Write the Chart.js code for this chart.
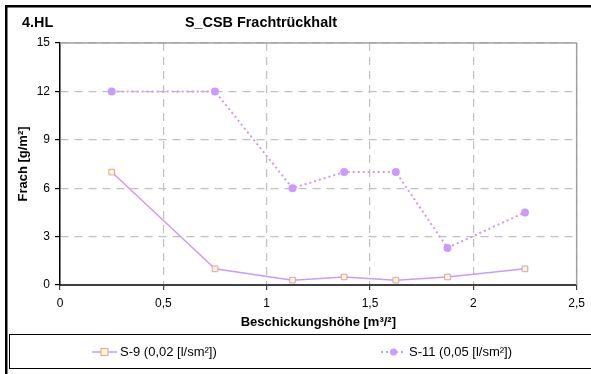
<!DOCTYPE html>
<html>
<head>
<meta charset="utf-8">
<script src="https://cdn.jsdelivr.net/npm/chart.js@4"></script>
<style>
html,body{margin:0;padding:0;background:#fff;}
#wrap{width:591px;height:374px;position:relative;}
</style>
</head>
<body>
<div id="wrap"><canvas id="c" width="591" height="374"></canvas></div>
<script>
const xValues = [0.25, 0.75, 1.125, 1.375, 1.625, 1.875, 2.25];
const s9Values = [7, 1, 0.3, 0.5, 0.3, 0.5, 1];
const s11Values = [12, 12, 6, 7, 7, 2.3, 4.5];
const seriesLabels = ['S-9 (0,02 [l/sm²])', 'S-11 (0,05 [l/sm²])'];
const xTickValues = [0, 0.5, 1, 1.5, 2, 2.5];
const xTickLabels = ['0', '0,5', '1', '1,5', '2', '2,5'];
const yTickValues = [0, 3, 6, 9, 12, 15];
const yTickLabels = ['0', '3', '6', '9', '12', '15'];
const chartTitle = 'S_CSB Frachtrückhalt';
const cornerLabel = '4.HL';
const xAxisTitle = 'Beschickungshöhe [m³/²]';
const yAxisTitle = 'Frach [g/m²]';

const LAV = '#cc99ff';
const FONT = '"Liberation Sans", Arial, sans-serif';

function toPoints(ys) { return xValues.map((x, i) => ({x: x, y: ys[i]})); }

const decor = {
  id: 'decor',
  beforeDatasetsDraw(chart) {
    const ctx = chart.ctx, a = chart.chartArea;
    ctx.save();
    ctx.strokeStyle = '#a0a0a0';
    ctx.lineWidth = 1.5;
    ctx.beginPath();
    ctx.moveTo(a.left, a.top);
    ctx.lineTo(a.right, a.top);
    ctx.lineTo(a.right, a.bottom);
    ctx.stroke();
    ctx.restore();
  },
  afterDraw(chart) {
    const ctx = chart.ctx, a = chart.chartArea;
    ctx.save();
    ctx.strokeStyle = '#000';
    ctx.lineWidth = 2.5;
    ctx.strokeRect(6.25, 6.25, 700, 500);
    ctx.fillStyle = '#000';
    ctx.font = 'bold 14.4px ' + FONT;
    ctx.textBaseline = 'middle';
    ctx.textAlign = 'left';
    ctx.fillText(cornerLabel, 22, 23);
    ctx.fillText(chartTitle, 185, 23);
    ctx.font = 'bold 13px ' + FONT;
    ctx.textAlign = 'center';
    ctx.fillText(xAxisTitle, (a.left + a.right) / 2, 322);
    ctx.save();
    ctx.translate(23, (a.top + a.bottom) / 2);
    ctx.rotate(-Math.PI / 2);
    ctx.fillText(yAxisTitle, 0, 0);
    ctx.restore();
    ctx.strokeStyle = '#000';
    ctx.lineWidth = 1;
    ctx.strokeRect(9.5, 334.5, 700, 34);
    const ly = 352;
    const lx = [92, 381];
    chart.data.datasets.forEach((ds, i) => {
      const x0 = lx[i];
      ctx.save();
      ctx.strokeStyle = ds.borderColor;
      ctx.lineWidth = ds.borderWidth;
      ctx.setLineDash(ds.borderDash || []);
      ctx.beginPath();
      ctx.moveTo(x0, ly);
      ctx.lineTo(x0 + 25, ly);
      ctx.stroke();
      ctx.restore();
      ctx.save();
      ctx.fillStyle = ds.pointBackgroundColor;
      ctx.strokeStyle = ds.pointBorderColor;
      ctx.lineWidth = 1;
      const cx = x0 + 12.5;
      if (ds.pointStyle === 'rect') {
        ctx.fillRect(cx - 3.5, ly - 3.5, 7, 7);
        ctx.strokeRect(cx - 3.5, ly - 3.5, 7, 7);
      } else {
        ctx.beginPath();
        ctx.arc(cx, ly, 3.5, 0, Math.PI * 2);
        ctx.fill();
      }
      ctx.restore();
      ctx.fillStyle = '#000';
      ctx.font = '13px ' + FONT;
      ctx.textAlign = 'left';
      ctx.textBaseline = 'middle';
      ctx.fillText(ds.label, x0 + 28, ly);
    });
    ctx.restore();
  }
};

new Chart(document.getElementById('c'), {
  type: 'scatter',
  data: {
    datasets: [
      {
        label: seriesLabels[0],
        data: toPoints(s9Values),
        showLine: true,
        borderColor: LAV,
        borderWidth: 1.5,
        pointStyle: 'rect',
        pointRadius: 4,
        pointBackgroundColor: '#ffff99',
        pointBorderColor: LAV,
        pointBorderWidth: 1,
        tension: 0
      },
      {
        label: seriesLabels[1],
        data: toPoints(s11Values),
        showLine: true,
        borderColor: LAV,
        borderWidth: 2,
        borderDash: [2, 3],
        pointStyle: 'circle',
        pointRadius: 4,
        pointBackgroundColor: LAV,
        pointBorderColor: LAV,
        pointBorderWidth: 0,
        tension: 0
      }
    ]
  },
  options: {
    responsive: false,
    animation: false,
    devicePixelRatio: 1,
    layout: {padding: {top: 43, right: 14, bottom: 44, left: 0}},
    plugins: {legend: {display: false}, title: {display: false}, tooltip: {enabled: false}},
    scales: {
      x: {
        type: 'linear',
        min: 0, max: 2.5,
        afterBuildTicks: s => { s.ticks = xTickValues.map(v => ({value: v})); },
        afterFit: s => { s.height = 45; },
        ticks: {
          color: '#000',
          font: {family: FONT, size: 12},
          padding: 6,
          maxRotation: 0,
          callback: (v) => { const i = xTickValues.indexOf(v); return i >= 0 ? xTickLabels[i] : ''; }
        },
        grid: {color: '#c0c0c0', lineWidth: 1.2, tickLength: 5, tickColor: '#404040', tickWidth: 1.2},
        border: {display: true, color: '#404040', width: 2, dash: [8, 6]}
      },
      y: {
        type: 'linear',
        min: 0, max: 15,
        afterBuildTicks: s => { s.ticks = yTickValues.map(v => ({value: v})); },
        afterFit: s => { s.width = 60; },
        ticks: {
          color: '#000',
          font: {family: FONT, size: 12},
          padding: 5,
          callback: (v) => { const i = yTickValues.indexOf(v); return i >= 0 ? yTickLabels[i] : ''; }
        },
        grid: {color: '#c0c0c0', lineWidth: 1.2, tickLength: 5, tickColor: '#000', tickWidth: 1.2},
        border: {display: true, color: '#000', width: 1.5, dash: [8, 6]}
      }
    }
  },
  plugins: [decor]
});
</script>
</body>
</html>
